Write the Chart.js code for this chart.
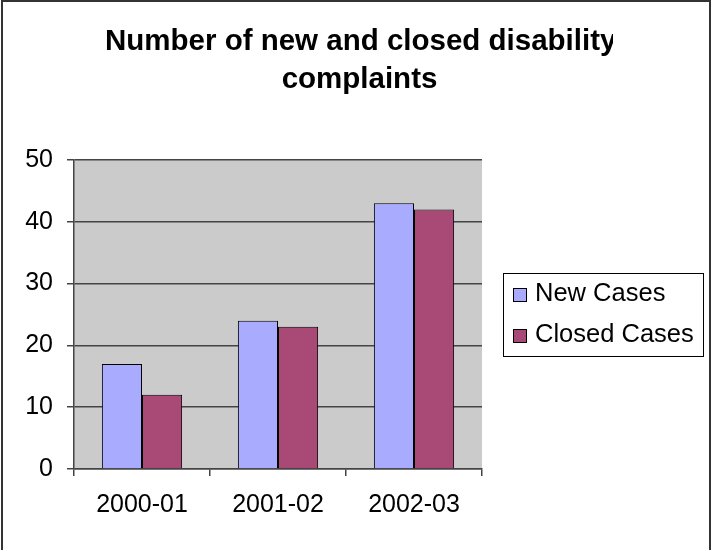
<!DOCTYPE html>
<html>
<head>
<meta charset="utf-8">
<script src="https://cdn.jsdelivr.net/npm/chart.js@4/dist/chart.umd.min.js"></script>
<style>
    html, body { margin: 0; padding: 0; background: #fff; }
    #wrap { width: 711px; height: 550px; }
</style>
</head>
<body>
<div id="wrap"><canvas id="chart" width="711" height="550"></canvas></div>
<script>
// Data
const categories = ["2000-01", "2001-02", "2002-03"];
const newCases = [17, 24, 43];
const closedCases = [12, 23, 42];
const seriesNames = ["New Cases", "Closed Cases"];
const yTicks = [0, 10, 20, 30, 40, 50];
const titleLines = ["Number of new and closed disability", "complaints"];

const FONT = "Arial, 'Liberation Sans', sans-serif";

// Gray plot area + outer frame
const backgroundPlugin = {
    id: 'plotBg',
    beforeDraw(chart) {
        const { ctx, chartArea: a } = chart;
        ctx.save();
        ctx.fillStyle = "#ffffff";
        ctx.fillRect(0, 0, chart.width, chart.height);
        ctx.fillStyle = "#cbcbcb";
        ctx.fillRect(a.left, a.top, a.right - a.left, a.bottom - a.top);
        ctx.restore();
    },
    afterDraw(chart) {
        const ctx = chart.ctx;
        ctx.save();
        ctx.strokeStyle = "#333";
        ctx.lineWidth = 2;
        ctx.strokeRect(2, 1, 708, 560);
        ctx.restore();
    }
};

// Title drawn by hand so the first line can be clipped like the original
const titlePlugin = {
    id: 'clippedTitle',
    afterDraw(chart) {
        const ctx = chart.ctx;
        ctx.save();
        ctx.fillStyle = "#000";
        ctx.font = "bold 29.5px " + FONT;
        ctx.textBaseline = "alphabetic";
        ctx.beginPath();
        ctx.rect(0, 0, 613, 60);
        ctx.clip();
        ctx.textAlign = "left";
        ctx.fillText(titleLines[0], 105, 50);
        ctx.restore();
        ctx.save();
        ctx.fillStyle = "#000";
        ctx.font = "bold 29.5px " + FONT;
        ctx.textBaseline = "alphabetic";
        ctx.textAlign = "center";
        ctx.fillText(titleLines[1], 359.5, 88);
        ctx.restore();
    }
};

// Legend box on the right
const legendPlugin = {
    id: 'boxLegend',
    afterDraw(chart) {
        const ctx = chart.ctx;
        ctx.save();
        ctx.strokeStyle = "#000";
        ctx.lineWidth = 1;
        ctx.strokeRect(503.5, 273.5, 200, 83);
        ctx.font = "25.5px " + FONT;
        ctx.textBaseline = "alphabetic";
        ctx.textAlign = "left";
        chart.data.datasets.forEach((ds, i) => {
            const base = 301 + i * 41;
            ctx.fillStyle = ds.backgroundColor;
            ctx.fillRect(513.5, base - 12.5, 13, 13);
            ctx.strokeRect(513.5, base - 12.5, 13, 13);
            ctx.fillStyle = "#000";
            ctx.fillText(ds.label, 535, base);
        });
        ctx.restore();
    }
};

const ctx = document.getElementById('chart').getContext('2d');
new Chart(ctx, {
    type: 'bar',
    data: {
        labels: categories,
        datasets: [{
            label: seriesNames[0],
            data: newCases,
            backgroundColor: '#a9abfe',
            borderColor: '#000',
            borderWidth: 1
        }, {
            label: seriesNames[1],
            data: closedCases,
            backgroundColor: '#a84a75',
            borderColor: '#000',
            borderWidth: 1
        }]
    },
    options: {
        responsive: false,
        animation: false,
        layout: { padding: { top: 160, right: 229, bottom: 0, left: 0 } },
        plugins: {
            legend: { display: false },
            title: { display: false },
            tooltip: { enabled: false }
        },
        datasets: {
            bar: { categoryPercentage: 0.59, barPercentage: 1.0 }
        },
        scales: {
            x: {
                offset: true,
                afterFit(scale) { scale.height = 81; },
                grid: {
                    offset: true,
                    drawOnChartArea: false,
                    color: '#444',
                    tickLength: 7,
                    lineWidth: 1.5
                },
                border: { color: '#444', width: 1.5 },
                ticks: {
                    color: '#000',
                    padding: 14,
                    font: { family: FONT, size: 25 }
                }
            },
            y: {
                min: 0,
                max: 50,
                afterFit(scale) { scale.width = 74; },
                afterBuildTicks(scale) { scale.ticks = yTicks.map(v => ({ value: v })); },
                grid: {
                    color: '#444',
                    lineWidth: 1.5,
                    tickLength: 7
                },
                border: { color: '#444', width: 1.5 },
                ticks: {
                    color: '#000',
                    padding: 14,
                    font: { family: FONT, size: 25 }
                }
            }
        }
    },
    plugins: [backgroundPlugin, titlePlugin, legendPlugin]
});
</script>
</body>
</html>
